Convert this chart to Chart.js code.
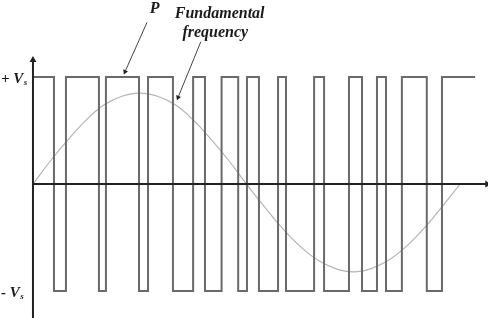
<!DOCTYPE html>
<html>
<head>
<meta charset="utf-8">
<script src="https://cdn.jsdelivr.net/npm/chart.js@4/dist/chart.umd.min.js"></script>
<style>
html,body{margin:0;padding:0;background:#fff;}
#wrap{width:488px;height:318px;}
</style>
</head>
<body>
<div id="wrap"><canvas id="c" width="488" height="318"></canvas></div>
<script>
// ---- data (x in electrical degrees, y in units of Vs) ----
const pwmStartLevel = 1;
const pwmEdges = [17.7, 27.8, 55.6, 61.5, 89.4, 97, 118, 135, 145, 159, 173, 180.4,
                  190.5, 206.6, 213.3, 237, 245.4, 266.4, 277.4, 290, 297.6, 311, 332, 344.8];
const pwmEnd = 372.7;

const sineX = [0,15,30,45,60,75,90,105,120,135,150,165,180,195,210,225,240,255,270,285,300,315,330,345,360];
const sineY = [0,0.22,0.42,0.60,0.74,0.82,0.85,0.82,0.74,0.60,0.42,0.22,0,-0.21,-0.41,-0.58,-0.71,-0.79,-0.82,-0.79,-0.71,-0.58,-0.41,-0.21,0];

const levelLabels = ['+ V', '- V'];
const levelValues = [1, -1];
const levelSub = 's';

// axis extents (data units)
const xAxisEnd = 383;
const yAxisTop = 1.16;
const yAxisBottom = -1.26;

// annotations: [tail, head] in data units
const pArrow = [{x:96.1, y:1.51}, {x:77.6, y:1.05}];
const fArrow = [{x:141.5, y:1.33}, {x:122.3, y:0.81}];
const textNotes = [
  {text:'P', x:98.5, y:1.60},
  {text:'Fundamental', x:119.5, y:1.55},
  {text:'frequency', x:126, y:1.37}
];

// ---- build datasets ----
const pwmPts = [{x:0, y:pwmStartLevel}];
let lvl = pwmStartLevel;
pwmEdges.forEach(e => { lvl = -lvl; pwmPts.push({x:e, y:lvl}); });
pwmPts.push({x:pwmEnd, y:lvl});

const sinePts = sineX.map((x,i)=>({x, y:sineY[i]}));

const textPlugin = {
  id:'texts',
  afterDatasetsDraw(chart){
    const ctx = chart.ctx, xs = chart.scales.x, ys = chart.scales.y;
    ctx.save();
    ctx.fillStyle = '#1a1a1a';
    ctx.textBaseline = 'alphabetic';
    levelLabels.forEach((t,i)=>{
      const py = ys.getPixelForValue(levelValues[i]) + 6;
      ctx.font = 'bold italic 15px "Liberation Serif"';
      ctx.fillText(t, 1, py);
      const w = ctx.measureText(t).width;
      ctx.font = 'bold italic 9px "Liberation Serif"';
      ctx.fillText(levelSub, 1 + w + 0.5, py + 2);
    });
    ctx.font = 'bold italic 16px "Liberation Serif"';
    textNotes.forEach(n=>{
      ctx.fillText(n.text, xs.getPixelForValue(n.x), ys.getPixelForValue(n.y));
    });
    ctx.restore();
  }
};

function arrowRotation(tail, head){
  return (ctx)=>{
    const xs = ctx.chart.scales.x, ys = ctx.chart.scales.y;
    if(!xs || !ys) return 0;
    const dx = xs.getPixelForValue(head.x) - xs.getPixelForValue(tail.x);
    const dy = ys.getPixelForValue(head.y) - ys.getPixelForValue(tail.y);
    return Math.atan2(dx, -dy) * 180 / Math.PI;
  };
}

new Chart(document.getElementById('c'), {
  type:'scatter',
  data:{
    datasets:[
      {label:'fundamental', data:sinePts, showLine:true, borderColor:'#b4b4b4', borderWidth:1.2,
       pointRadius:0, tension:0.4, fill:false, order:3},
      {label:'pwm', data:pwmPts, showLine:true, stepped:true, borderColor:'#6a6a6a', borderWidth:2,
       pointRadius:0, fill:false, order:2},
      {label:'x-axis', data:[{x:0,y:0},{x:xAxisEnd,y:0}], showLine:true, borderColor:'#222', borderWidth:2,
       pointRadius:[0,4], pointStyle:'triangle', rotation:90, pointBackgroundColor:'#222', pointBorderColor:'#222', pointBorderWidth:0, order:1},
      {label:'y-axis', data:[{x:0,y:yAxisBottom},{x:0,y:yAxisTop}], showLine:true, borderColor:'#222', borderWidth:2,
       pointRadius:[0,4], pointStyle:'triangle', rotation:0, pointBackgroundColor:'#222', pointBorderColor:'#222', pointBorderWidth:0, order:1},
      {label:'p-arrow', data:pArrow, showLine:true, borderColor:'#444', borderWidth:1,
       pointRadius:[0,3], pointStyle:'triangle', rotation:arrowRotation(pArrow[0], pArrow[1]),
       pointBackgroundColor:'#222', pointBorderWidth:0, order:0},
      {label:'f-arrow', data:fArrow, showLine:true, borderColor:'#444', borderWidth:1,
       pointRadius:[0,3], pointStyle:'triangle', rotation:arrowRotation(fArrow[0], fArrow[1]),
       pointBackgroundColor:'#222', pointBorderWidth:0, order:0}
    ]
  },
  options:{
    responsive:false,
    devicePixelRatio:1,
    animation:false,
    layout:{padding:0, autoPadding:false},
    plugins:{legend:{display:false}, tooltip:{enabled:false}},
    scales:{
      x:{type:'linear', display:false, min:-27.8, max:383.6},
      y:{type:'linear', display:false, min:-1.252, max:1.72}
    }
  },
  plugins:[textPlugin]
});
</script>
</body>
</html>
